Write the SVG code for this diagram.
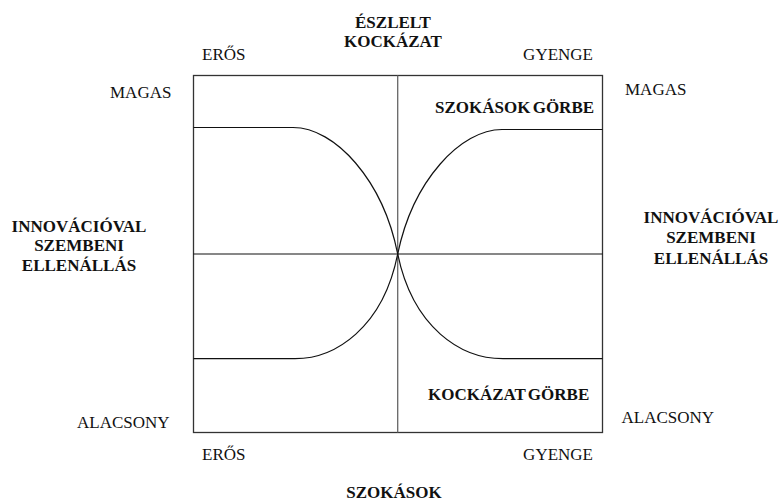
<svg xmlns="http://www.w3.org/2000/svg" width="779" height="503" viewBox="0 0 779 503">
<style>
text{font-family:"Liberation Serif","Times New Roman",serif;font-size:17px;fill:#111}
.b{font-weight:bold}
.m{text-anchor:middle}
.e{text-anchor:end}
.frame{fill:none;stroke:#333;stroke-width:1.3}
.ax{stroke:#666;stroke-width:1.3}
.ln{fill:none;stroke:#111;stroke-width:1.2}
</style>
<rect width="779" height="503" fill="#fff"/>
<g id="frame">
<rect class="frame" x="193.5" y="75.5" width="409" height="357"/>
</g>
<g id="connectors">
<line class="ax" x1="397.7" y1="75.5" x2="397.7" y2="432.5"/>
<line class="ln" x1="193.5" y1="254" x2="602.5" y2="254"/>
<path class="ln" d="M193.5,127.5 H293 C335,127.5 383,180 397.7,254"/>
<path class="ln" d="M602.5,129.5 H502 C461,129.5 413,180 397.7,254"/>
<path class="ln" d="M193.5,358.7 H295 C335,358.7 383,328 397.7,254"/>
<path class="ln" d="M602.5,358.7 H503 C461,358.7 413,328 397.7,254"/>
</g>
<g id="top-title">
<text class="b m" x="393" y="28">ÉSZLELT</text>
<text class="b m" x="393" y="47">KOCKÁZAT</text>
</g>
<g id="top-labels">
<text x="202" y="60">ERŐS</text>
<text class="e" x="593" y="60">GYENGE</text>
</g>
<g id="szokasok-gorbe">
<text class="b" x="435" y="113" word-spacing="-2">SZOKÁSOK GÖRBE</text>
</g>
<g id="kockazat-gorbe">
<text class="b" x="428" y="400" word-spacing="-2">KOCKÁZAT GÖRBE</text>
</g>
<g id="left-labels">
<text x="110" y="98">MAGAS</text>
<text x="77" y="428">ALACSONY</text>
<text class="b m" x="79" y="231.5">INNOVÁCIÓVAL</text>
<text class="b m" x="79" y="251">SZEMBENI</text>
<text class="b m" x="79" y="271">ELLENÁLLÁS</text>
</g>
<g id="right-labels">
<text x="625" y="95">MAGAS</text>
<text x="621.5" y="423">ALACSONY</text>
<text class="b m" x="711" y="223">INNOVÁCIÓVAL</text>
<text class="b m" x="711" y="243">SZEMBENI</text>
<text class="b m" x="711" y="264">ELLENÁLLÁS</text>
</g>
<g id="bottom-labels">
<text x="202" y="460">ERŐS</text>
<text class="e" x="593" y="460">GYENGE</text>
<text class="b m" x="394" y="498">SZOKÁSOK</text>
</g>
</svg>
